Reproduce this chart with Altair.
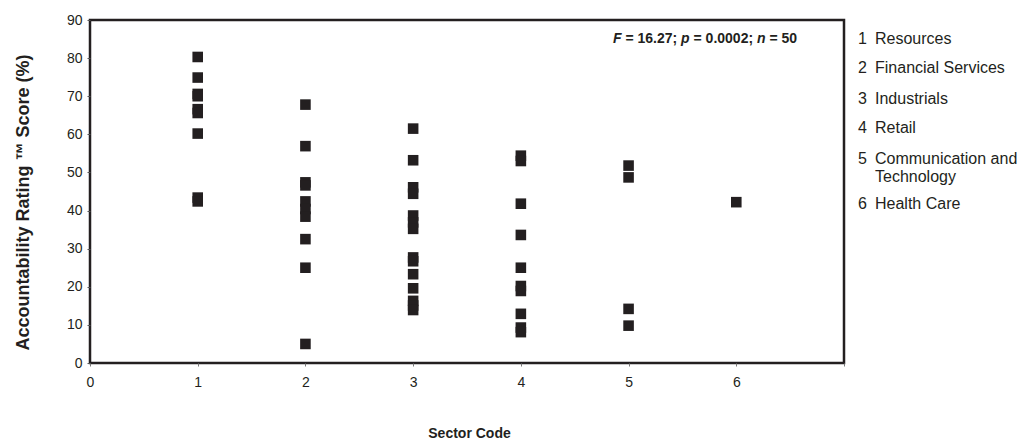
import altair as alt
import pandas as pd

# ---- data ----
sector_codes = [1, 2, 3, 4, 5, 6]
sector_names = ["Resources", "Financial Services", "Industrials", "Retail",
                "Communication and Technology", "Health Care"]

scores_s1 = [80.3, 74.9, 70.6, 70.0, 66.6, 65.6, 60.2, 43.4, 42.4]
scores_s2 = [67.8, 56.9, 47.4, 46.6, 42.4, 40.4, 38.4, 32.5, 25.0, 5.0]
scores_s3 = [61.5, 53.2, 46.1, 44.4, 38.7, 36.9, 35.2, 27.7, 26.7, 23.3,
             19.6, 16.3, 15.1, 13.9]
scores_s4 = [54.4, 53.0, 41.8, 33.6, 25.0, 20.2, 18.9, 12.9, 9.3, 8.1]
scores_s5 = [51.8, 48.7, 14.2, 9.8]
scores_s6 = [42.2]

x_ticks = [0, 1, 2, 3, 4, 5, 6, 7]
y_ticks = [0, 10, 20, 30, 40, 50, 60, 70, 80, 90]

stat_parts = ["F", "= 16.27;", "p", "= 0.0002;", "n", "= 50"]
stat_italic = [True, False, True, False, True, False]

# ---- build tables ----
all_scores = [scores_s1, scores_s2, scores_s3, scores_s4, scores_s5, scores_s6]
rows = []
for code, vals in zip(sector_codes, all_scores):
    for v in vals:
        rows.append({"sector": code, "score": v})
pts = pd.DataFrame(rows)

INK = "#231f20"
FONT = "Liberation Sans"

W, H = 754, 343

points = alt.Chart(pts).mark_point(
    shape="square", filled=True, size=112, color=INK, opacity=1, strokeWidth=0
).encode(
    x=alt.X("sector:Q",
            scale=alt.Scale(domain=[0, 7], nice=False, zero=False),
            axis=alt.Axis(values=x_ticks, title="Sector Code",
                          labelExpr="datum.value < 7 ? datum.label : ''",
                          grid=False, domain=False, tickSize=3, labelFlush=False,
                          tickColor="#777", labelPadding=9,
                          titleFontSize=14, titlePadding=37, titleX=379)),
    y=alt.Y("score:Q",
            scale=alt.Scale(domain=[0, 90], nice=False),
            axis=alt.Axis(values=y_ticks, title="Accountability Rating ™ Score (%)",
                          grid=False, domain=False, tickSize=3, labelFlush=False,
                          tickColor="#555", labelPadding=5,
                          titleFontSize=18, titlePadding=34, titleY=182)),
)

# legend-like list on the right (text annotations)
legend_lines = []
for code, name in zip(sector_codes, sector_names):
    if name == "Communication and Technology":
        legend_lines.append({"num": str(code), "txt": "Communication and"})
        legend_lines.append({"num": "", "txt": "Technology"})
    else:
        legend_lines.append({"num": str(code), "txt": name})
leg_y = [19, 48, 79, 108, 139, 157, 184]
for i, d in enumerate(legend_lines):
    d["py"] = leg_y[i]
leg_df = pd.DataFrame(legend_lines)

leg_num = alt.Chart(leg_df).mark_text(
    align="right", baseline="middle", font=FONT, fontSize=16, color=INK
).encode(text="num:N", x=alt.value(W + 23), y=alt.Y("py:Q", scale=None))

leg_txt = alt.Chart(leg_df).mark_text(
    align="left", baseline="middle", font=FONT, fontSize=16, color=INK
).encode(text="txt:N", x=alt.value(W + 31), y=alt.Y("py:Q", scale=None))

# statistics annotation with italic letters
char_w = {"F": 0.611, "p": 0.611, "n": 0.611, "=": 0.584, " ": 0.278,
          ".": 0.278, ";": 0.333}
def width(s, fs):
    return sum(char_w.get(c, 0.556) for c in s) * fs

fs_stat = 14
x0 = 523
cur = x0
layers = []
for part, it in zip(stat_parts, stat_italic):
    df = pd.DataFrame({"t": [part], "px": [cur]})
    layers.append(
        alt.Chart(df).mark_text(
            align="left", baseline="middle", font=FONT, fontSize=fs_stat,
            fontWeight="bold", fontStyle="italic" if it else "normal", color=INK
        ).encode(text="t:N", x=alt.X("px:Q", scale=None), y=alt.value(19))
    )
    cur += width(part + " ", fs_stat)

chart = alt.layer(points, leg_num, leg_txt, *layers).properties(
    width=W, height=H,
    autosize=alt.AutoSizeParams(type="none"),
    padding={"left": 90, "top": 20, "right": 1020 - 90 - W, "bottom": 442 - 20 - H},
    background="white",
).configure_view(
    stroke=INK, strokeWidth=2.5
).configure_axis(
    labelFont=FONT, labelFontSize=14, labelColor=INK,
    titleFont=FONT, titleFontWeight="bold", titleColor=INK,
)

chart.save("out.html", embed_options={"renderer": "svg", "actions": False})
